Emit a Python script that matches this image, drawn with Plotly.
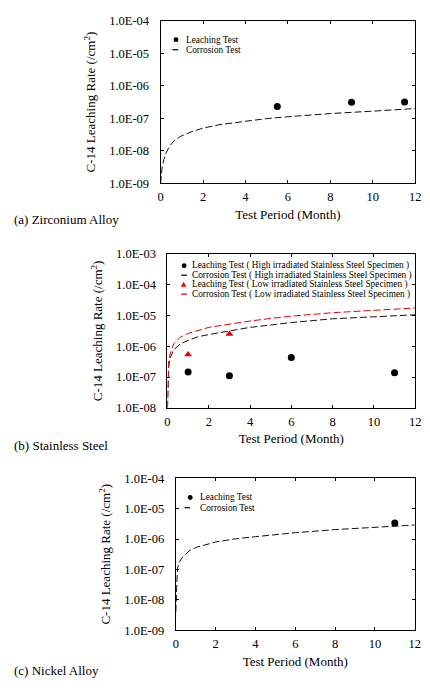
import plotly.graph_objects as go

W, H = 430, 696
FONT = "Liberation Serif, Times New Roman, serif"
RED = "#e20000"

# ---------------- data ----------------
month_ticks = [0, 2, 4, 6, 8, 10, 12]
month_tick_text = ["0", "2", "4", "6", "8", "10", "12"]

# (a) Zirconium Alloy
zr_yticks = [1e-9, 1e-8, 1e-7, 1e-6, 1e-5, 1e-4]
zr_yticktext = ["1.0E-09", "1.0E-08", "1.0E-07", "1.0E-06", "1.0E-05", "1.0E-04"]
zr_leach_t = [5.5, 9.0, 11.5]
zr_leach_v = [2.3e-7, 3.1e-7, 3.2e-7]
zr_corr_t = [0.0, 0.02, 0.06, 0.15, 0.26, 0.42, 0.65, 0.95, 1.42, 2.0, 2.8, 4.0, 5.0, 6.0, 8.0, 10.0, 12.0]
zr_corr_v = [1.0e-9, 1.6e-9, 2.7e-9, 5.4e-9, 8.7e-9, 1.4e-8, 2.1e-8, 2.8e-8, 3.8e-8, 5.0e-8, 6.4e-8,
             8.1e-8, 9.8e-8, 1.12e-7, 1.4e-7, 1.66e-7, 2.0e-7]

# (b) Stainless Steel
ss_yticks = [1e-8, 1e-7, 1e-6, 1e-5, 1e-4, 1e-3]
ss_yticktext = ["1.0E-08", "1.0E-07", "1.0E-06", "1.0E-05", "1.0E-04", "1.0E-03"]
ss_high_leach_t = [1.0, 3.0, 6.0, 11.0]
ss_high_leach_v = [1.45e-7, 1.1e-7, 4.3e-7, 1.37e-7]
ss_low_leach_t = [1.0, 3.0]
ss_low_leach_v = [5.4e-7, 2.5e-6]
ss_high_corr_t = [0.0, 0.02, 0.05, 0.1, 0.16, 0.31, 0.63, 1.0, 1.5, 2.0, 3.0, 4.0, 5.0, 6.0, 8.0, 10.0, 12.0]
ss_high_corr_v = [1.0e-8, 5.0e-8, 2.0e-7, 3.3e-7, 4.6e-7, 7.8e-7, 1.2e-6, 1.55e-6, 2.05e-6, 2.4e-6,
                  3.2e-6, 4.1e-6, 4.9e-6, 5.9e-6, 7.8e-6, 9.1e-6, 1.05e-5]
ss_low_corr_t = [0.0, 0.02, 0.06, 0.16, 0.31, 0.63, 1.0, 2.0, 3.0, 4.0, 5.0, 6.0, 8.0, 10.0, 12.0]
ss_low_corr_v = [1.0e-8, 8.0e-8, 3.6e-7, 6.6e-7, 1.2e-6, 2.0e-6, 2.6e-6, 4.1e-6, 5.3e-6, 6.6e-6,
                 8.0e-6, 9.5e-6, 1.23e-5, 1.47e-5, 1.75e-5]

# (c) Nickel Alloy
ni_yticks = [1e-9, 1e-8, 1e-7, 1e-6, 1e-5, 1e-4]
ni_yticktext = ["1.0E-09", "1.0E-08", "1.0E-07", "1.0E-06", "1.0E-05", "1.0E-04"]
ni_leach_t = [11.0]
ni_leach_v = [3.4e-6]
ni_corr_t = [0.0, 0.03, 0.08, 0.17, 0.33, 0.67, 1.0, 2.0, 3.0, 4.0, 5.0, 6.0, 8.0, 10.0, 12.0]
ni_corr_v = [4.0e-9, 1.9e-8, 1.05e-7, 1.7e-7, 2.5e-7, 4.1e-7, 5.3e-7, 8.0e-7, 1.02e-6, 1.2e-6,
             1.4e-6, 1.62e-6, 2.05e-6, 2.45e-6, 2.9e-6]

# ---------------- helpers ----------------
def xd(left, right):
    return [left / W, right / W]

def yd(top, bottom):
    return [1 - bottom / H, 1 - top / H]

def px(x):
    return x / W

def py(y):
    return 1 - y / H

DASH = "7px,3px"

fig = go.Figure()

# (a)
fig.add_trace(go.Scatter(x=zr_corr_t, y=zr_corr_v, mode="lines", name="Corrosion Test",
                         line=dict(color="#111", width=1, dash=DASH), xaxis="x", yaxis="y", showlegend=False))
fig.add_trace(go.Scatter(x=zr_leach_t, y=zr_leach_v, mode="markers", name="Leaching Test",
                         marker=dict(color="black", size=7, symbol="circle"), xaxis="x", yaxis="y", showlegend=False))
# (b)
fig.add_trace(go.Scatter(x=ss_high_corr_t, y=ss_high_corr_v, mode="lines",
                         name="Corrosion Test ( High irradiated Stainless Steel Specimen )",
                         line=dict(color="#111", width=1, dash=DASH), xaxis="x2", yaxis="y2", showlegend=False))
fig.add_trace(go.Scatter(x=ss_low_corr_t, y=ss_low_corr_v, mode="lines",
                         name="Corrosion Test ( Low irradiated Stainless Steel Specimen )",
                         line=dict(color=RED, width=1, dash=DASH), xaxis="x2", yaxis="y2", showlegend=False))
fig.add_trace(go.Scatter(x=ss_high_leach_t, y=ss_high_leach_v, mode="markers",
                         name="Leaching Test ( High irradiated Stainless Steel Specimen )",
                         marker=dict(color="black", size=7, symbol="circle"), xaxis="x2", yaxis="y2", showlegend=False))
fig.add_trace(go.Scatter(x=ss_low_leach_t, y=ss_low_leach_v, mode="markers",
                         name="Leaching Test ( Low irradiated Stainless Steel Specimen )",
                         marker=dict(color=RED, size=7, symbol="triangle-up"), xaxis="x2", yaxis="y2", showlegend=False))
# (c)
fig.add_trace(go.Scatter(x=ni_corr_t, y=ni_corr_v, mode="lines", name="Corrosion Test",
                         line=dict(color="#111", width=1, dash=DASH), xaxis="x3", yaxis="y3", showlegend=False))
fig.add_trace(go.Scatter(x=ni_leach_t, y=ni_leach_v, mode="markers", name="Leaching Test",
                         marker=dict(color="black", size=7, symbol="circle"), xaxis="x3", yaxis="y3", showlegend=False))

tickfont = dict(family=FONT, size=12.5, color="black")
titlefont = dict(family=FONT, size=13, color="black")
ytitle = "C-14 Leaching Rate (/cm<sup>2</sup>)"

def xaxis(domain, anchor):
    return dict(domain=domain, anchor=anchor, range=[0, 12], tickvals=month_ticks, ticktext=month_tick_text,
                ticks="inside", ticklen=3, tickcolor="black", mirror="ticks", showline=True, linecolor="black",
                linewidth=1, showgrid=False, zeroline=False, tickfont=tickfont, ticklabelstandoff=2,
                ticklabeloverflow="allow",
                title=dict(text="Test Period (Month)", font=titlefont, standoff=6))

def yaxis(domain, anchor, rng, tv, tt):
    return dict(domain=domain, anchor=anchor, type="log", range=rng, tickvals=tv, ticktext=tt,
                ticks="inside", ticklen=3, tickcolor="black", mirror="ticks", showline=True, linecolor="black",
                linewidth=1, showgrid=False, zeroline=False, tickfont=tickfont, ticklabelstandoff=8,
                ticklabeloverflow="allow",
                title=dict(text=ytitle, font=titlefont, standoff=10))

fig.update_layout(
    width=W, height=H, margin=dict(l=0, r=0, t=0, b=0),
    paper_bgcolor="white", plot_bgcolor="white", showlegend=False,
    font=dict(family=FONT, color="black"),
    xaxis=xaxis(xd(161, 421), "y"),
    yaxis=yaxis(yd(14, 180), "x", [-9, -4], zr_yticks, zr_yticktext),
    xaxis2=xaxis(xd(168, 421), "y2"),
    yaxis2=yaxis(yd(252, 409), "x2", [-8, -3], ss_yticks, ss_yticktext),
    xaxis3=xaxis(xd(176.5, 420.5), "y3"),
    yaxis3=yaxis(yd(481, 636), "x3", [-9, -4], ni_yticks, ni_yticktext),
)

# ---------------- manual legends & panel labels ----------------
legfont = dict(family=FONT, size=9.3, color="black")
annotations = []
shapes = []

def leg_text(x, y, text):
    annotations.append(dict(x=px(x), y=py(y), xref="paper", yref="paper", text=text, showarrow=False,
                            xanchor="left", yanchor="middle", font=legfont))

def leg_dot(x, y, color="black", r=2.5):
    shapes.append(dict(type="circle", xref="paper", yref="paper", x0=px(x - r), x1=px(x + r),
                       y0=py(y + r), y1=py(y - r), fillcolor=color, line=dict(color=color, width=0)))

def leg_tri(x, y, color=RED, s=2.8):
    path = "M {:.5f} {:.5f} L {:.5f} {:.5f} L {:.5f} {:.5f} Z".format(
        px(x - s), py(y + s * 0.8), px(x + s), py(y + s * 0.8), px(x), py(y - s * 1.0))
    shapes.append(dict(type="path", xref="paper", yref="paper", path=path, fillcolor=color,
                       line=dict(color=color, width=0)))

def leg_line(x0, x1, y, color="black"):
    shapes.append(dict(type="line", xref="paper", yref="paper", x0=px(x0), x1=px(x1), y0=py(y), y1=py(y),
                       line=dict(color=color, width=1.2)))

# (a)
leg_dot(176.7, 33.3)
leg_text(184.5, 33.3, "Leaching Test")
leg_line(173, 179, 43.6)
leg_text(184.5, 43.6, "Corrosion Test")
# (b)
rows_b = [264.0, 273.7, 283.3, 293.0]
leg_dot(185, rows_b[0])
leg_text(191.5, rows_b[0], "Leaching Test ( High irradiated Stainless Steel Specimen )")
leg_line(182, 188, rows_b[1])
leg_text(191.5, rows_b[1], "Corrosion Test ( High irradiated Stainless Steel Specimen )")
leg_tri(184.5, rows_b[2])
leg_text(191.5, rows_b[2], "Leaching Test ( Low irradiated Stainless Steel Specimen )")
leg_line(182, 188, rows_b[3], RED)
leg_text(191.5, rows_b[3], "Corrosion Test ( Low irradiated Stainless Steel Specimen )")
# (c)
leg_dot(191.2, 500.5)
leg_text(199, 500.5, "Leaching Test")
leg_line(185.5, 191, 511)
leg_text(199, 511, "Corrosion Test")

labfont = dict(family=FONT, size=13, color="black")
for y, t in [(217, "(a) Zirconium Alloy"), (447, "(b) Stainless Steel"), (677, "(c) Nickel Alloy")]:
    annotations.append(dict(x=px(9), y=py(y), xref="paper", yref="paper", text=t, showarrow=False,
                            xanchor="left", yanchor="middle", font=labfont))

fig.update_layout(annotations=annotations, shapes=shapes)
fig.write_html("out.html", config={"displayModeBar": False},
               post_script="document.body.style.margin='0';document.body.style.padding='0';")
